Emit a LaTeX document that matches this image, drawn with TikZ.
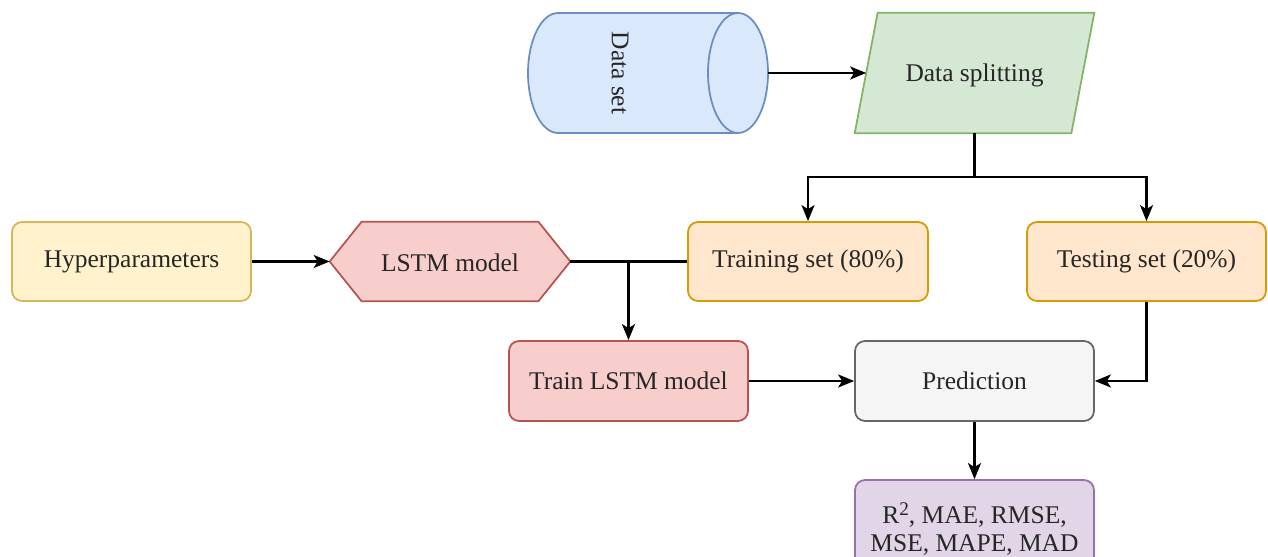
\documentclass[tikz,border=0pt]{standalone}
\usepackage{fontspec}
\setmainfont{Liberation Serif}
\usetikzlibrary{arrows.meta,calc}
\definecolor{bluef}{HTML}{DAE8FC}\definecolor{blued}{HTML}{6C8EBF}
\definecolor{greenf}{HTML}{D5E8D4}\definecolor{greend}{HTML}{82B366}
\definecolor{yellf}{HTML}{FFF2CC}\definecolor{yelld}{HTML}{D6B656}
\definecolor{oranf}{HTML}{FFE6CC}\definecolor{orand}{HTML}{D79B00}
\definecolor{redf}{HTML}{F8CECC}\definecolor{redd}{HTML}{B85450}
\definecolor{grayf}{HTML}{F5F5F5}\definecolor{grayd}{HTML}{666666}
\definecolor{purf}{HTML}{E1D5E7}\definecolor{purd}{HTML}{9673A6}
\tikzset{
  txt/.style={font=\fontsize{14.5}{16}\selectfont, text=black!85, align=center},
  boxnode/.style={txt, rectangle, rounded corners=0.2cm, draw, line width=1pt, minimum width=4.78cm, minimum height=1.58cm, inner sep=0pt},
  ghost/.style={txt, inner sep=0pt},
  arr/.style={line width=1.3pt, -{Stealth[length=0.32cm,width=0.26cm,inset=0.08cm]}},
  plain/.style={line width=1.3pt},
}
\begin{document}
\begin{tikzpicture}[x=0.02cm,y=0.02cm]
\useasboundingbox (0,0) rectangle (1268,557);
\clip (0,0) rectangle (1268,557);
% data set cylinder
\node[ghost, minimum width=4.8cm, minimum height=2.4cm] (ds) at (648,484) {};
\draw[blued, fill=bluef, line width=1pt] (558,544) -- (738,544) arc (90:-90:0.6cm and 1.2cm) -- (558,424) arc (270:90:0.6cm and 1.2cm) -- cycle;
\draw[blued, line width=1pt] (738,544) arc (90:270:0.6cm and 1.2cm);
\node[txt, rotate=-90] (dstext) at (620,484) {Data set};
% data splitting parallelogram
\node[ghost, minimum width=4.32cm, minimum height=2.4cm] (split) at (974.5,484) {};
\draw[greend, fill=greenf, line width=1pt] ($(split.north west)+(11.5,0)$) -- ($(split.north east)+(11.5,0)$) -- ($(split.south east)+(-11.5,0)$) -- ($(split.south west)+(-11.5,0)$) -- cycle;
\node[txt] (splittext) at (974.5,482) {Data splitting};
% row 2
\node[boxnode, draw=yelld, fill=yellf] (hyp) at (131.5,295.5) {Hyperparameters};
\node[ghost, minimum width=4.8cm, minimum height=1.58cm] (lstm) at (450,295.5) {};
\draw[redd, fill=redf, line width=1pt] (lstm.west) -- ($(lstm.north west)+(32,0)$) -- ($(lstm.north east)+(-32,0)$) -- (lstm.east) -- ($(lstm.south east)+(-32,0)$) -- ($(lstm.south west)+(32,0)$) -- cycle;
\node[txt] (lstmtext) at (450,294) {LSTM model};
\node[boxnode, draw=orand, fill=oranf, minimum width=4.8cm] (trainset) at (808,295.5) {Training set (80\%)};
\node[boxnode, draw=orand, fill=oranf] (testset) at (1146.5,295.5) {Testing set (20\%)};
% row 3
\node[boxnode, draw=redd, fill=redf, minimum height=1.6cm] (trainlstm) at (628.5,176) {Train LSTM model};
\node[boxnode, draw=grayd, fill=grayf, minimum height=1.6cm] (pred) at (974.5,176) {Prediction};
% metrics
\node[boxnode, draw=purd, fill=purf, minimum height=1.96cm, font=\fontsize{14.5}{15.9}\selectfont] (metrics) at (974.5,28) {R\raisebox{0.75ex}{\fontsize{11}{11}\selectfont 2}, MAE, RMSE,\\MSE, MAPE, MAD};
% connectors
\coordinate (j) at (974.5,380);
\draw[arr] (ds.east) -- (split.west);
\draw[arr] (split.south) -- (j) -| (trainset.north);
\draw[arr] (j) -| (testset.north);
\draw[arr] (hyp.east) -- (lstm.west);
\draw[plain] (lstm.east) -- (trainset.west);
\draw[arr] (lstm.east -| trainlstm.north) -- (trainlstm.north);
\draw[arr] (trainlstm.east) -- (pred.west);
\draw[arr] (testset.south) |- (pred.east);
\draw[arr] (pred.south) -- (metrics.north);
\end{tikzpicture}
\end{document}
